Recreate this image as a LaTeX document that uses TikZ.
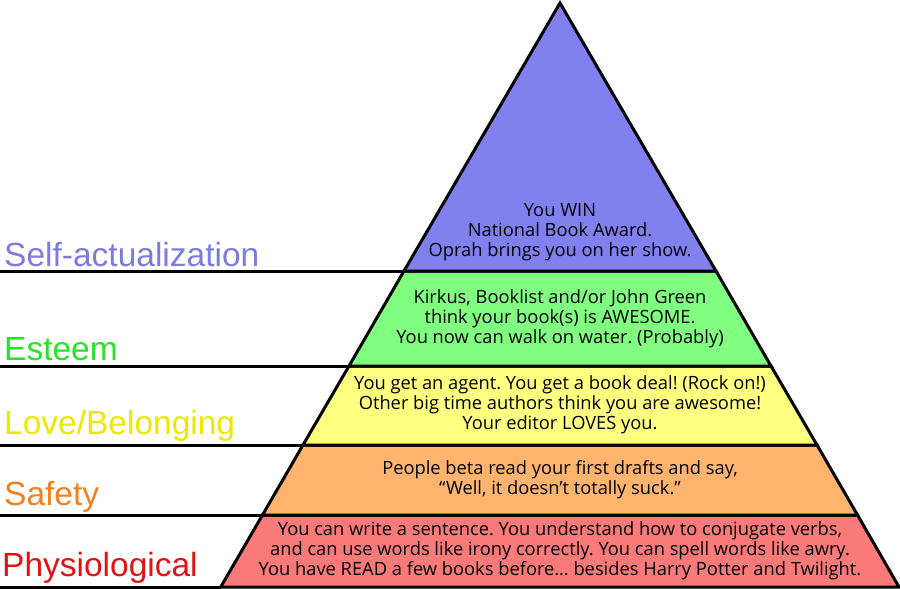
\documentclass[tikz,border=0pt]{standalone}
\usepackage{fontspec}
\setmainfont{Liberation Sans}
\newfontfamily\bodyfont{Open Sans}
\usepackage{tikz}
\frenchspacing
\definecolor{selfcol}{RGB}{128,128,238}
\definecolor{esteemcol}{RGB}{128,255,128}
\definecolor{lovecol}{RGB}{255,255,128}
\definecolor{safecol}{RGB}{255,180,110}
\definecolor{physcol}{RGB}{250,122,122}
\definecolor{selflab}{RGB}{124,124,222}
\definecolor{esteemlab}{RGB}{40,225,40}
\definecolor{lovelab}{RGB}{236,232,0}
\definecolor{safelab}{RGB}{242,128,32}
\definecolor{physlab}{RGB}{226,18,18}
\tikzset{level/.style = {draw = black, line width = 3pt, line join = miter}}
\tikzset{rule/.style = {black, line width = 3pt}}
\tikzset{label/.style = {anchor = base west, inner sep = 0pt, font = \fontsize{33.5}{33}\selectfont}}
\tikzset{say/.style = {align = center, font = \bodyfont\fontsize{18.3}{20}\selectfont}}

\begin{document}
\begin{tikzpicture}[x = 1pt, y = -1pt]
			\useasboundingbox (0, 0) rectangle (900, 589);

			\filldraw[level, fill = physcol] (262.5, 515) -- (857.5, 515) -- (899, 587) -- (220.7, 587) -- cycle;
			\filldraw[level, fill = safecol] (303, 445) -- (817, 445) -- (857.5, 515) -- (262.5, 515) -- cycle;
			\filldraw[level, fill = lovecol] (349, 366) -- (771, 366) -- (817, 445) -- (303, 445) -- cycle;
			\filldraw[level, fill = esteemcol] (404, 271) -- (716, 271) -- (771, 366) -- (349, 366) -- cycle;
			\filldraw[level, fill = selfcol] (560, 3) -- (716, 271) -- (404, 271) -- cycle;

			\draw[rule] (0, 271) -- (404, 271);
			\draw[rule] (0, 366) -- (349, 366);
			\draw[rule] (0, 445) -- (303, 445);
			\draw[rule] (0, 515) -- (262.5, 515);
			\draw[rule] (0, 587) -- (220.7, 587);

			\node[label, text = selflab] (s) at (4, 266) {Self-actualization};
			\node[label, text = esteemlab] (e) at (4, 360) {Esteem};
			\node[label, text = lovelab] (l) at (4, 434) {Love/Belonging};
			\node[label, text = safelab] (f) at (4, 505) {Safety};
			\node[label, text = physlab] (p) at (2, 576) {Physiological};

			\node[say] (ts) at (560, 232) {You WIN\\National Book Award.\\Oprah brings you on her show.};
			\node[say] (te) at (560, 319) {Kirkus, Booklist and/or John Green\\think your book(s) is AWESOME.\\You now can walk on water. (Probably)};
			\node[say] (tl) at (560, 405) {You get an agent. You get a book deal! (Rock on!)\\Other big time authors think you are awesome!\\Your editor LOVES you.};
			\node[say] (tf) at (560, 480) {People beta read your first drafts and say,\\“Well, it doesn’t totally suck.”};
			\node[say] (tp) at (560, 551) {You can write a sentence. You understand how to conjugate verbs,\\and can use words like irony correctly. You can spell words like awry.\\You have READ a few books before\ldots\ besides Harry Potter and Twilight.};
		\end{tikzpicture}
\end{document}
